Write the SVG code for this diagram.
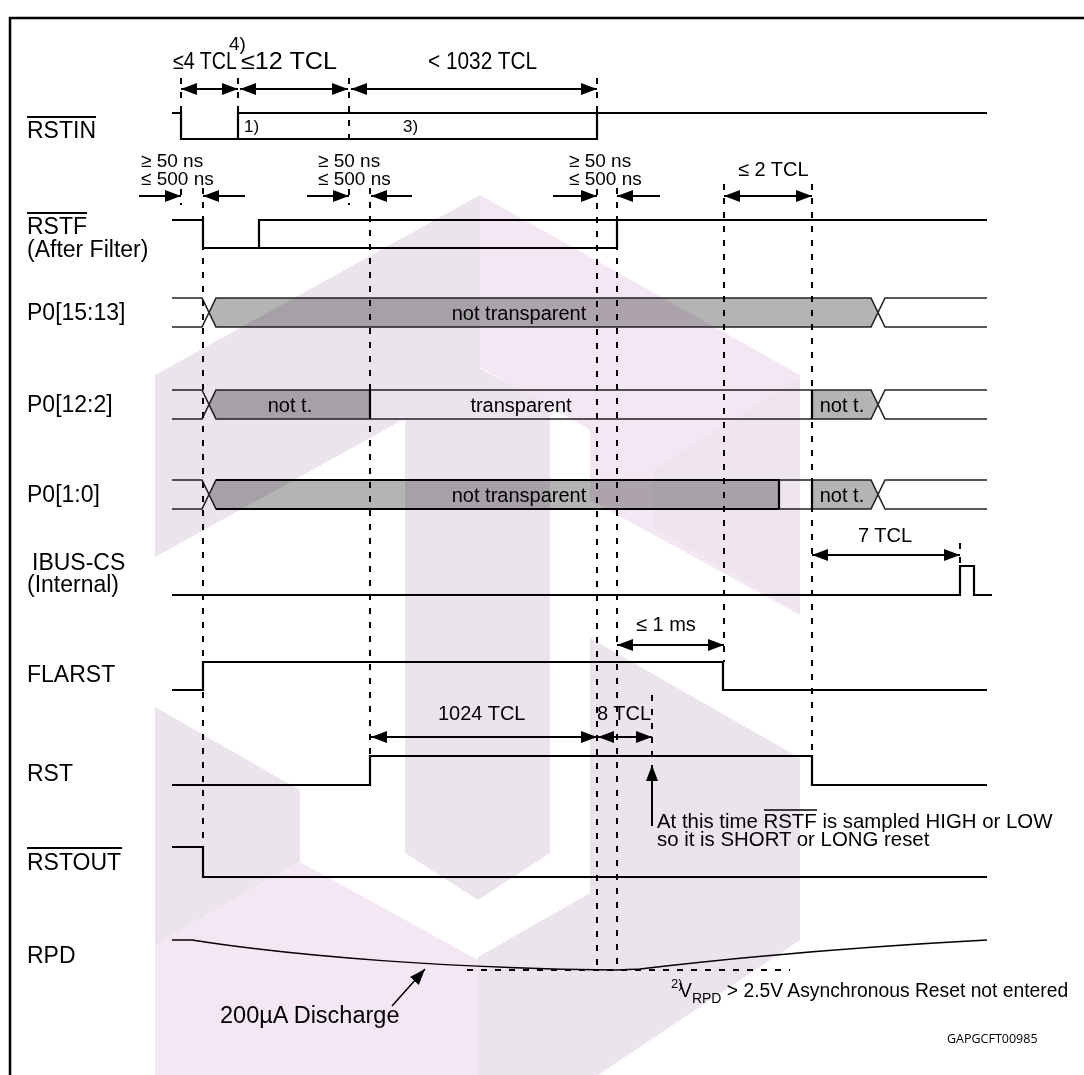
<svg xmlns="http://www.w3.org/2000/svg" width="1084" height="1075" viewBox="0 0 1084 1075">
<defs>
<style>
.sig{fill:none;stroke:#000;stroke-width:2.2}
.bus{fill:none;stroke:#222;stroke-width:1.6}
.dash{fill:none;stroke:#000;stroke-width:2;stroke-dasharray:6 8}
.dim{fill:none;stroke:#000;stroke-width:2}
.lbl{font-family:"Liberation Sans",Arial,sans-serif;font-size:23px;fill:#000}
.t{font-family:"Liberation Sans",Arial,sans-serif;font-size:20px;fill:#000}
.fill{fill:#b4b4b4}
.wmg{fill:#ebe4ec}
.wmp{fill:#f4e7f4}
</style>
<marker id="ah" viewBox="0 0 16 12" markerWidth="16" markerHeight="12" refX="16" refY="6" orient="auto-start-reverse" markerUnits="userSpaceOnUse">
<path d="M0,0 L16,6 L0,12 z" fill="#000"/>
</marker>
</defs>
<rect width="1084" height="1075" fill="#fff"/>
<path d="M10,1075 V18 H1084" fill="none" stroke="#000" stroke-width="2.5"/>

<g id="labels">
<text class="lbl" x="27" y="138">RSTIN</text><line x1="27" y1="117" x2="96" y2="117" stroke="#000" stroke-width="2"/>
<text class="lbl" x="27" y="234">RSTF</text><line x1="27" y1="213" x2="87" y2="213" stroke="#000" stroke-width="2"/>
<text class="lbl" x="27" y="257">(After Filter)</text>
<text class="lbl" x="27" y="320">P0[15:13]</text>
<text class="lbl" x="27" y="412">P0[12:2]</text>
<text class="lbl" x="27" y="502">P0[1:0]</text>
<text class="lbl" x="32" y="570">IBUS-CS</text>
<text class="lbl" x="27" y="592">(Internal)</text>
<text class="lbl" x="27" y="682">FLARST</text>
<text class="lbl" x="27" y="781">RST</text>
<text class="lbl" x="27" y="870">RSTOUT</text><line x1="27" y1="848" x2="122" y2="848" stroke="#000" stroke-width="2"/>
<text class="lbl" x="27" y="963">RPD</text>
</g>

<g id="sig-rstin">
<path class="sig" d="M172,113 H181 V139 H597 V113"/>
<path class="sig" d="M238,139 V113 H987"/>
<text class="t" x="244" y="132" style="font-size:17px">1)</text>
<text class="t" x="403" y="132" style="font-size:17px">3)</text>
</g>
<g id="sig-rstf">
<path class="sig" d="M172,220 H203 V248 H617 V220"/>
<path class="sig" d="M259,248 V220 H987"/>
</g>

<g id="bus-p0-15-13">
<path class="fill" d="M216,298 H871 L878,312 L871,327 H216 L209,312 z"/>
<path class="bus" d="M172,298 H202 L216,327 H871 L885,298 H987 M172,327 H202 L216,298 H871 L885,327 H987"/>
<text class="t" x="519" y="320" text-anchor="middle">not transparent</text>
</g>
<g id="bus-p0-12-2">
<path class="fill" d="M216,390 H370 V419 H216 L209,405 z"/>
<path class="fill" d="M812,390 H871 L878,405 L871,419 H812 z"/>
<path class="bus" d="M172,390 H202 L216,419 H871 L885,390 H987 M172,419 H202 L216,390 H871 L885,419 H987"/>
<path class="sig" d="M370,390 V419 M812,390 V419"/>
<text class="t" x="290" y="412" text-anchor="middle">not t.</text>
<text class="t" x="521" y="412" text-anchor="middle">transparent</text>
<text class="t" x="842" y="412" text-anchor="middle">not t.</text>
</g>
<g id="bus-p0-1-0">
<path class="fill" d="M216,480 H779 V509 H216 L209,495 z"/>
<path class="fill" d="M812,480 H871 L878,495 L871,509 H812 z"/>
<path class="bus" d="M172,480 H202 L216,509 H871 L885,480 H987 M172,509 H202 L216,480 H871 L885,509 H987"/>
<path class="sig" d="M216,480 H779 V509 M216,509 H779 M812,480 V509"/>
<text class="t" x="519" y="502" text-anchor="middle">not transparent</text>
<text class="t" x="842" y="502" text-anchor="middle">not t.</text>
</g>

<g id="sig-ibus">
<path class="sig" d="M172,595 H960 V566 H974 V595 H992"/>
</g>
<g id="sig-flarst">
<path class="sig" d="M172,690 H203 V662 H723 V690 H987"/>
</g>
<g id="sig-rst">
<path class="sig" d="M172,785 H370 V756 H812 V785 H987"/>
</g>
<g id="sig-rstout">
<path class="sig" d="M172,847 H203 V877 H987"/>
</g>
<g id="sig-rpd">
<path fill="none" stroke="#000" stroke-width="1.5" d="M172,940 H192 C300,957 450,968 616,970 L640,969 Q800,950 987,940"/>
<line class="dash" x1="467" y1="970" x2="790" y2="970" style="stroke-width:1.8"/>
</g>

<g id="connectors">
<line class="dash" x1="181" y1="78" x2="181" y2="146"/>
<line class="dash" x1="181" y1="189" x2="181" y2="205"/>
<line class="dash" x1="238" y1="78" x2="238" y2="113"/>
<line class="dash" x1="349" y1="78" x2="349" y2="146"/>
<line class="dash" x1="349" y1="189" x2="349" y2="205"/>
<line class="dash" x1="597" y1="78" x2="597" y2="146"/>
<line class="dash" x1="597" y1="189" x2="597" y2="970"/>
<line class="dash" x1="203" y1="188" x2="203" y2="847"/>
<line class="dash" x1="370" y1="188" x2="370" y2="756"/>
<line class="dash" x1="617" y1="188" x2="617" y2="970"/>
<line class="dash" x1="724" y1="184" x2="724" y2="662"/>
<line class="dash" x1="812" y1="184" x2="812" y2="785"/>
<line class="dash" x1="652" y1="695" x2="652" y2="765"/>
<line class="dash" x1="960" y1="543" x2="960" y2="566"/>

<line class="dim" x1="181" y1="89" x2="238" y2="89" marker-start="url(#ah)" marker-end="url(#ah)"/>
<line class="dim" x1="240" y1="89" x2="348" y2="89" marker-start="url(#ah)" marker-end="url(#ah)"/>
<line class="dim" x1="351" y1="89" x2="597" y2="89" marker-start="url(#ah)" marker-end="url(#ah)"/>

<line class="dim" x1="139" y1="196" x2="181" y2="196" marker-end="url(#ah)"/>
<line class="dim" x1="245" y1="196" x2="203" y2="196" marker-end="url(#ah)"/>
<line class="dim" x1="307" y1="196" x2="349" y2="196" marker-end="url(#ah)"/>
<line class="dim" x1="412" y1="196" x2="371" y2="196" marker-end="url(#ah)"/>
<line class="dim" x1="553" y1="196" x2="597" y2="196" marker-end="url(#ah)"/>
<line class="dim" x1="660" y1="196" x2="617" y2="196" marker-end="url(#ah)"/>

<line class="dim" x1="724" y1="196" x2="812" y2="196" marker-start="url(#ah)" marker-end="url(#ah)"/>
<line class="dim" x1="812" y1="555" x2="960" y2="555" marker-start="url(#ah)" marker-end="url(#ah)"/>
<line class="dim" x1="617" y1="645" x2="724" y2="645" marker-start="url(#ah)" marker-end="url(#ah)"/>
<line class="dim" x1="371" y1="737" x2="597" y2="737" marker-start="url(#ah)" marker-end="url(#ah)"/>
<line class="dim" x1="598" y1="737" x2="652" y2="737" marker-start="url(#ah)" marker-end="url(#ah)"/>
<line class="dim" x1="652" y1="826" x2="652" y2="765" marker-end="url(#ah)"/>
<line x1="392" y1="1006" x2="425" y2="969" stroke="#000" stroke-width="1.5" marker-end="url(#ah)"/>
</g>

<g id="annotations">
<text class="t" x="173" y="69" textLength="64" lengthAdjust="spacingAndGlyphs" style="font-size:23px">≤4 TCL</text>
<text class="t" x="229" y="50" style="font-size:19px">4)</text>
<text class="t" x="241" y="69" textLength="96" lengthAdjust="spacingAndGlyphs" style="font-size:23px">≤12 TCL</text>
<text class="t" x="428" y="69" textLength="109" lengthAdjust="spacingAndGlyphs" style="font-size:23px">&lt; 1032 TCL</text>
<text class="t" x="141" y="167" style="font-size:19px">≥ 50 ns</text>
<text class="t" x="141" y="185" style="font-size:19px">≤ 500 ns</text>
<text class="t" x="318" y="167" style="font-size:19px">≥ 50 ns</text>
<text class="t" x="318" y="185" style="font-size:19px">≤ 500 ns</text>
<text class="t" x="569" y="167" style="font-size:19px">≥ 50 ns</text>
<text class="t" x="569" y="185" style="font-size:19px">≤ 500 ns</text>
<text class="t" x="738" y="176">≤ 2 TCL</text>
<text class="t" x="858" y="542">7 TCL</text>
<text class="t" x="636" y="631">≤ 1 ms</text>
<text class="t" x="438" y="720">1024 TCL</text>
<text class="t" x="597" y="720">8 TCL</text>
<text class="t" x="657" y="828" style="font-size:20.4px">At this time RSTF is sampled HIGH or LOW</text>
<line x1="764" y1="810" x2="817" y2="810" stroke="#000" stroke-width="1.5"/>
<text class="t" x="657" y="846" style="font-size:20.4px">so it is SHORT or LONG reset</text>
<text class="t" x="220" y="1023" style="font-size:23.5px">200µA Discharge</text>
<text class="t" x="671" y="988" style="font-size:13px">2)</text>
<text class="t" x="679" y="997" style="font-size:19.3px">V<tspan dy="6" style="font-size:14px">RPD</tspan><tspan dy="-6"> &gt; 2.5V Asynchronous Reset not entered</tspan></text>
<text x="947" y="1043" style="font-family:'Open Sans','DejaVu Sans',sans-serif;font-size:12.5px;fill:#000">GAPGCFT00985</text>
</g>

<g id="watermark" style="mix-blend-mode:multiply">
<polygon class="wmg" points="155,375 480,195 480,377 155,557"/>
<polygon class="wmp" points="480,195 800,375 800,615 590,500 590,430 480,367"/>
<polygon class="wmg" points="654,470 800,377 800,613 654,527" style="opacity:0.8"/>
<polygon class="wmg" points="405,405 477,367 550,405 550,853 478,900 405,853"/>
<polygon class="wmg" points="155,707 300,790 300,862 155,945"/>
<polygon class="wmp" points="155,945 300,862 478,960 478,1075 155,1075"/>
<polygon class="wmg" points="590,638 800,758 800,940 598,1075 478,1075 478,957 590,893"/>
</g>
</svg>
